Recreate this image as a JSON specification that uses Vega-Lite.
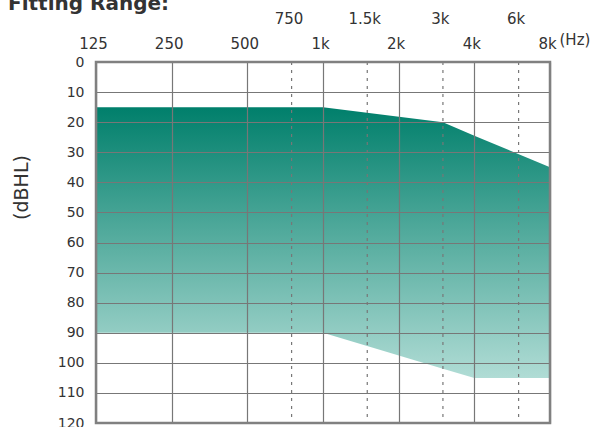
{
  "$schema": "https://vega.github.io/schema/vega-lite/v6.json",
  "width": 454,
  "height": 361,
  "autosize": {"type": "none"},
  "padding": {"left": 96, "top": 62, "right": 44, "bottom": 4},
  "background": "white",
  "title": {
    "text": "Fitting Range:",
    "anchor": "start",
    "frame": "group",
    "dx": -88,
    "dy": 19,
    "fontSize": 20,
    "font": "DejaVu Sans",
    "fontWeight": "bold",
    "color": "#333333",
    "baseline": "alphabetic",
    "offset": 0
  },
  "layer": [
    {
      "data": {
        "values": [
          {"f": 125, "top": 15, "bottom": 90},
          {"f": 1000, "top": 15, "bottom": 90},
          {"f": 3000, "top": 20, "bottom": 102},
          {"f": 4000, "top": 24.5, "bottom": 105},
          {"f": 8000, "top": 35, "bottom": 105}
        ]
      },
      "mark": {
        "type": "area",
        "color": {
          "gradient": "linear",
          "x1": 0, "y1": 0, "x2": 0, "y2": 1,
          "stops": [
            {"offset": 0, "color": "#007f6b"},
            {"offset": 1, "color": "#b0dcd5"}
          ]
        },
        "opacity": 1
      },
      "encoding": {
        "x": {
          "field": "f",
          "type": "quantitative",
          "scale": {"type": "log", "domain": [125, 8000], "nice": false, "zero": false},
          "axis": {
            "orient": "top",
            "values": [125, 250, 500, 1000, 2000, 4000, 8000],
            "labelExpr": "datum.value >= 1000 ? format(datum.value / 1000, '~g') + 'k' : '' + datum.value",
            "grid": true,
            "gridColor": "#777777",
            "gridWidth": 1.2,
            "domain": false,
            "ticks": false,
            "tickSize": 0,
            "labelPadding": 14,
            "labelBaseline": "alphabetic",
            "labelFont": "DejaVu Sans",
            "labelFontSize": 15,
            "labelColor": "#333333",
            "labelOffset": -3,
            "labelFlush": false,
            "labelOverlap": false,
            "title": "(Hz)",
            "titleX": 463,
            "titleY": -18,
            "titleAlign": "left",
            "titleAngle": 0,
            "titleBaseline": "alphabetic",
            "titleFont": "DejaVu Sans",
            "titleFontSize": 15,
            "titleFontWeight": "normal",
            "titleColor": "#333333",
            "zindex": 1
          }
        },
        "y": {
          "field": "top",
          "type": "quantitative",
          "scale": {"domain": [0, 120], "reverse": true, "nice": false, "zero": false},
          "axis": {
            "orient": "left",
            "values": [0, 10, 20, 30, 40, 50, 60, 70, 80, 90, 100, 110, 120],
            "grid": true,
            "gridColor": "#777777",
            "gridWidth": 1.2,
            "domain": false,
            "ticks": false,
            "tickSize": 0,
            "labelPadding": 12,
            "labelFont": "DejaVu Sans",
            "labelFontSize": 14,
            "labelColor": "#333333",
            "labelFlush": false,
            "labelOverlap": false,
            "title": "(dBHL)",
            "titleX": -69,
            "titleY": 125,
            "titleAngle": -90,
            "titleAlign": "center",
            "titleBaseline": "alphabetic",
            "titleFont": "DejaVu Sans",
            "titleFontSize": 19,
            "titleFontWeight": "normal",
            "titleColor": "#333333",
            "zindex": 1
          }
        },
        "y2": {"field": "bottom"}
      }
    },
    {
      "data": {
        "values": [
          {"f": 750},
          {"f": 1500},
          {"f": 3000},
          {"f": 6000}
        ]
      },
      "mark": {"type": "rule", "color": "#777777", "strokeWidth": 1.2, "strokeDash": [3, 5]},
      "encoding": {
        "x": {
          "field": "f",
          "type": "quantitative",
          "axis": {
            "orient": "top",
            "values": [750, 1500, 3000, 6000],
            "labelExpr": "datum.value >= 1000 ? format(datum.value / 1000, '~g') + 'k' : '' + datum.value",
            "grid": false,
            "domain": false,
            "ticks": false,
            "tickSize": 0,
            "labelPadding": 39,
            "labelBaseline": "alphabetic",
            "labelFont": "DejaVu Sans",
            "labelFontSize": 15,
            "labelColor": "#333333",
            "labelOffset": -3,
            "labelFlush": false,
            "labelOverlap": false,
            "title": null
          }
        }
      }
    }
  ],
  "resolve": {"axis": {"x": "independent"}},
  "config": {
    "view": {"stroke": "#808080", "strokeWidth": 2.5},
    "group": {"strokeForeground": true}
  }
}
